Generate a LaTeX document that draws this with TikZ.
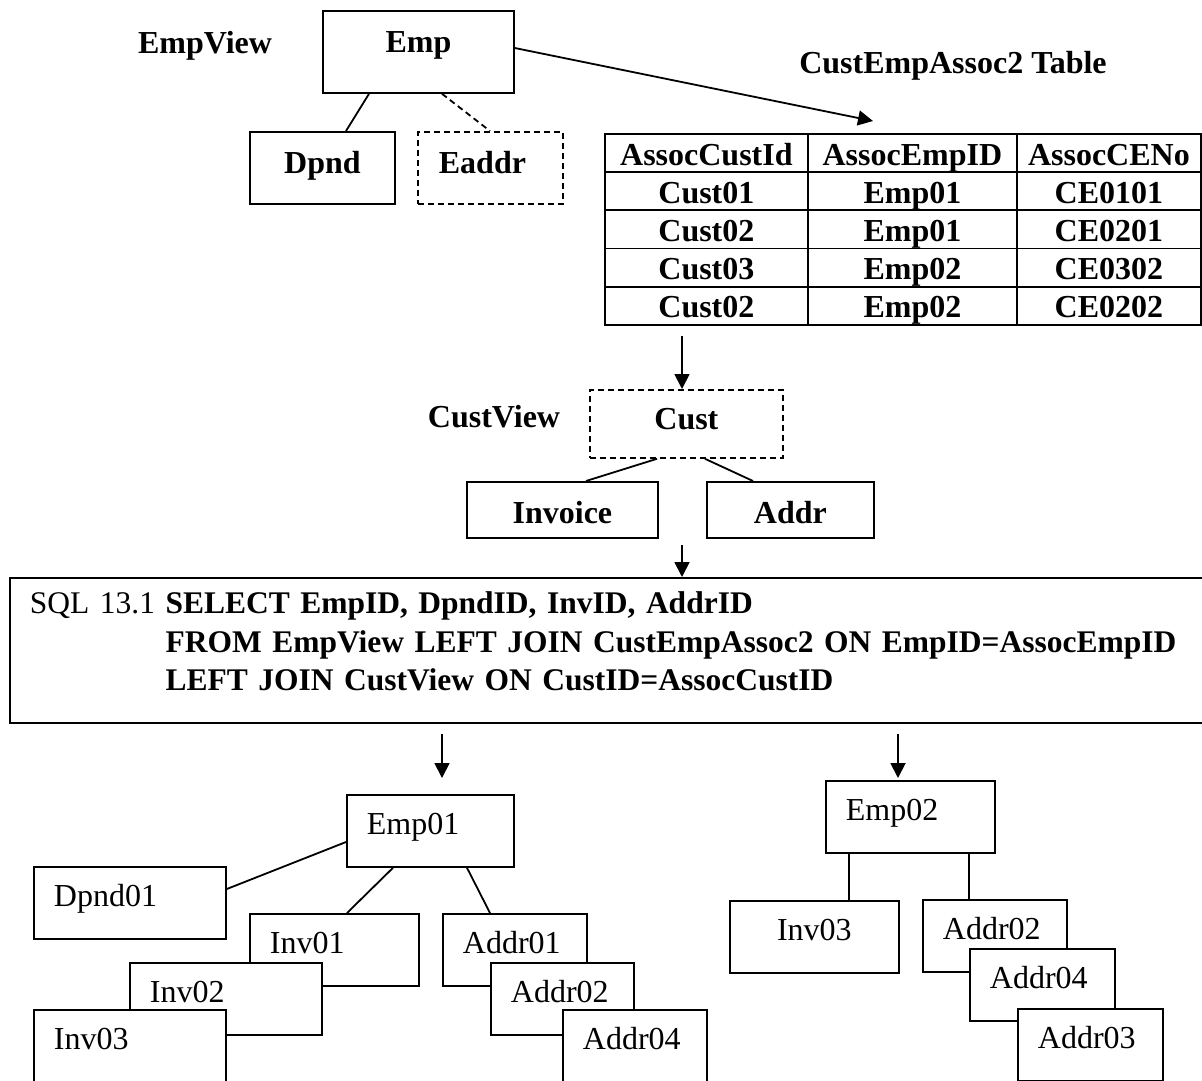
\documentclass[tikz,border=0pt]{standalone}
\usepackage{fontspec}
\setmainfont{Liberation Serif}
\usetikzlibrary{arrows.meta}
\newcommand{\dgmfont}{\fontsize{32pt}{38.5pt}\selectfont}
\newcommand{\sqlfont}{\fontsize{31.5pt}{38.5pt}\selectfont}
\tikzset{
  flowarr/.style={-{Triangle[length=15pt,width=15pt]}, line width=1.8pt},
  boxbase/.style={draw, line width=1.8pt, fill=white, anchor=north west, inner sep=0pt},
  viewdash/.style={dash pattern=on 6pt off 4pt},
}

\begin{document}
\begin{tikzpicture}[
  x=1pt, y=-1pt,
  font=\dgmfont,
  line width=1.8pt,
  ent/.style={boxbase, font=\dgmfont\bfseries, align=center},
  inst/.style={boxbase, inner xsep=20pt, text height=40pt, text depth=32pt, align=left, text width=#1},
  cell/.style={draw, anchor=north west, inner sep=0pt, minimum height=38.2pt, text height=24pt, text depth=0pt, font=\dgmfont\bfseries},
  lbl/.style={font=\dgmfont\bfseries, anchor=base},
]
  \useasboundingbox (0,0) rectangle (1202,1080);

  % employee view
  \node[lbl] (empview) at (205,53) {EmpView};
  \node[ent, minimum width=191pt, text height=42pt, text depth=40pt] (emp) at (322,10) {Emp};
  \node[ent, minimum width=145pt, text height=42pt, text depth=30pt] (dpnd) at (249,131) {Dpnd};
  \node[ent, viewdash, inner xsep=21pt, text width=103pt, align=left, text height=42pt, text depth=30pt] (eaddr) at (417,131) {Eaddr};
  \draw ([xshift=47pt]emp.south west) -- ([xshift=97pt]dpnd.north west);
  \draw[viewdash] ([xshift=120pt]emp.south west) -- ([xshift=73pt]eaddr.north west);

  % association table
  \node[lbl] (tbltitle) at (953,73) {CustEmpAssoc2 Table};
  \foreach \r/\a/\b/\c in {0/AssocCustId/AssocEmpID/AssocCENo, 1/Cust01/Emp01/CE0101,
      2/Cust02/Emp01/CE0201, 3/Cust03/Emp02/CE0302, 4/Cust02/Emp02/CE0202}{
    \node[cell, minimum width=203pt] (ca\r) at (604,{133+38.2*\r}) {\a};
    \node[cell, minimum width=209pt] (cb\r) at (807,{133+38.2*\r}) {\b};
    \node[cell, minimum width=184pt] (cc\r) at (1016,{133+38.2*\r}) {\c};
  }
  \coordinate (tbltip) at (873,121);
  \draw[flowarr] ([yshift=-38pt]emp.north east) -- (tbltip);

  % customer view
  \coordinate (tblout) at (682,336);
  \node[lbl] (custview) at (494,427) {CustView};
  \node[ent, viewdash, minimum width=193pt, text height=40pt, text depth=28pt] (cust) at (589,389) {Cust};
  \node[ent, minimum width=191pt, text height=42pt, text depth=14pt] (invoice) at (466,481) {Invoice};
  \node[ent, minimum width=167pt, text height=42pt, text depth=14pt] (addr) at (706,481) {Addr};
  \draw[flowarr] (tblout) -- ([xshift=93pt]cust.north west);
  \draw ([xshift=68pt]cust.south west) -- ([xshift=120pt]invoice.north west);
  \draw ([xshift=116pt]cust.south west) -- ([xshift=47pt]addr.north west);

  % query
  \coordinate (custout) at (682,545);
  \node[boxbase, font=\sqlfont, inner xsep=20pt, text width=1180pt, align=left, text height=36pt, text depth=109pt] (sql) at (9,577)
    {\begin{tabular}[t]{@{}l@{ }l@{}}
      SQL 13.1 & \textbf{SELECT EmpID, DpndID, InvID, AddrID}\\
      & \textbf{FROM EmpView LEFT JOIN CustEmpAssoc2 ON EmpID=AssocEmpID}\\
      & \textbf{LEFT JOIN CustView ON CustID=AssocCustID}
    \end{tabular}};
  \draw[flowarr] (custout) -- ([xshift=673pt]sql.north west);

  % result for Emp01
  \node[inst=127pt] (emp1) at (346,794) {Emp01};
  \node[inst=152pt] (dpnd1) at (33,866) {Dpnd01};
  \node[inst=129pt] (inv1) at (249,913) {Inv01};
  \node[inst=152pt] (inv2) at (129,962) {Inv02};
  \node[inst=152pt] (inv3) at (33,1009) {Inv03};
  \node[inst=104pt] (addr1) at (442,913) {Addr01};
  \node[inst=103pt] (addr2) at (490,962) {Addr02};
  \node[inst=104pt] (addr4) at (562,1009) {Addr04};
  \draw[flowarr] ([xshift=433pt,yshift=-10pt]sql.south west) -- ([xshift=96pt,yshift=16pt]emp1.north west);
  \draw ([yshift=-48pt]emp1.north west) -- ([yshift=-23pt]dpnd1.north east);
  \draw ([xshift=47pt]emp1.south west) -- ([xshift=98pt]inv1.north west);
  \draw ([xshift=121pt]emp1.south west) -- ([xshift=48pt]addr1.north west);

  % result for Emp02
  \node[inst=129pt] (emp2) at (825,780) {Emp02};
  \node[inst=129pt, align=center] (inv3b) at (729,900) {Inv03};
  \node[inst=104pt] (addr2b) at (922,899) {Addr02};
  \node[inst=105pt] (addr4b) at (969,948) {Addr04};
  \node[inst=105pt] (addr3b) at (1017,1008) {Addr03};
  \draw[flowarr] ([xshift=889pt,yshift=-10pt]sql.south west) -- ([xshift=73pt,yshift=2pt]emp2.north west);
  \draw ([xshift=24pt]emp2.south west) -- ([xshift=120pt]inv3b.north west);
  \draw ([xshift=144pt]emp2.south west) -- ([xshift=47pt]addr2b.north west);
\end{tikzpicture}
\end{document}
